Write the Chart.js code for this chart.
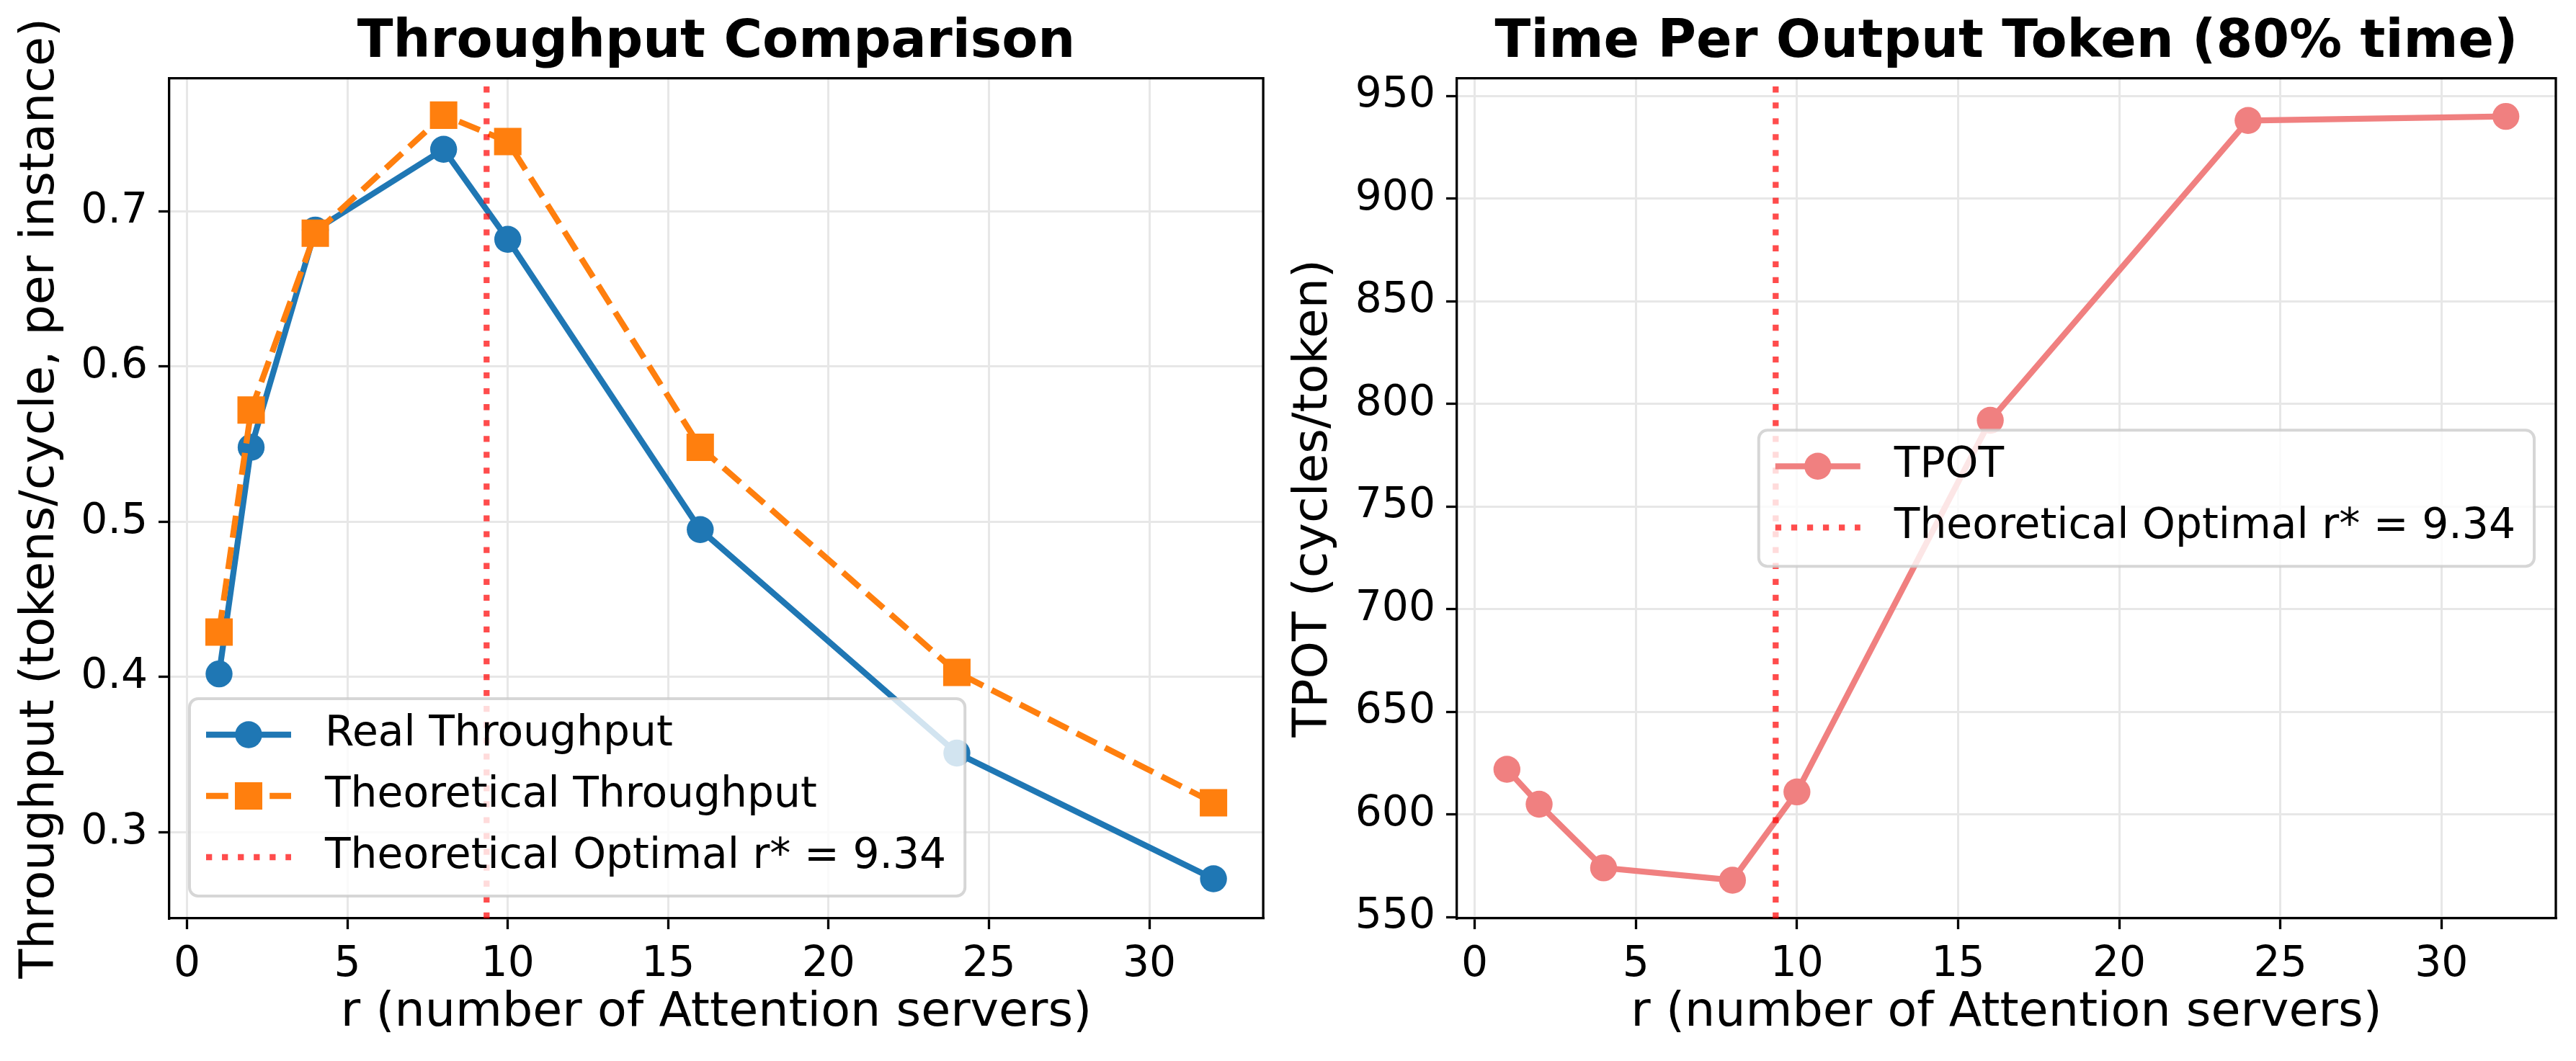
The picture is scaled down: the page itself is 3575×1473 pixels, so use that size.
<!DOCTYPE html>
<html>
<head>
<meta charset="utf-8">
<title>Throughput / TPOT</title>
<style>
  html, body { margin: 0; padding: 0; background: #fff; overflow: hidden; }
  #wrap { position: relative; width: 3575px; height: 1473px; }
  canvas { position: absolute; top: 0; }
</style>
</head>
<body>
<div id="wrap">
  <canvas id="left" width="1780" height="1473" style="left:0"></canvas>
  <canvas id="right" width="1795" height="1473" style="left:1780px"></canvas>
</div>
<script src="https://cdn.jsdelivr.net/npm/chart.js"></script>
<script>
// data
const rValues = [1, 2, 4, 8, 10, 16, 24, 32];
const realThroughput = [0.402, 0.548, 0.688, 0.740, 0.682, 0.495, 0.351, 0.270];
const theoreticalThroughput = [0.429, 0.572, 0.686, 0.762, 0.745, 0.548, 0.403, 0.319];
const tpotValues = [622, 605, 574, 568, 611, 792, 938, 940];
const rStar = 9.34;

// axis limits (matplotlib autoscale with 5% margins)
const xMin = -0.55, xMax = 33.55;
const yMinLeft = 0.2445, yMaxLeft = 0.7858;
const yMinRight = 549.4, yMaxRight = 958.6;

const FONT = 'DejaVu Sans';
const TICK_PX = 58.3, LABEL_PX = 66.7, TITLE_PX = 73;

function pts(xs, ys) {
  return xs.map((x, i) => ({x: x, y: ys[i]}));
}

function roundBox(ctx, x, y, w, h, r) {
  ctx.beginPath();
  ctx.moveTo(x + r, y);
  ctx.arcTo(x + w, y, x + w, y + h, r);
  ctx.arcTo(x + w, y + h, x, y + h, r);
  ctx.arcTo(x, y + h, x, y, r);
  ctx.arcTo(x, y, x + w, y, r);
  ctx.closePath();
}

function drawMarker(ctx, style, r, x, y, color) {
  ctx.fillStyle = color;
  ctx.beginPath();
  if (style === 'rect') {
    const s = Math.SQRT1_2 * r;
    ctx.rect(x - s, y - s, 2 * s, 2 * s);
  } else {
    ctx.arc(x, y, r, 0, Math.PI * 2);
  }
  ctx.fill();
}

// top/right spines + matplotlib style legend inside the axes
const frameAndLegend = {
  id: 'frameAndLegend',
  afterDraw(chart, args, opts) {
    const ctx = chart.ctx, a = chart.chartArea;
    ctx.save();
    ctx.strokeStyle = '#000';
    ctx.lineWidth = 3.3;
    ctx.beginPath();
    ctx.moveTo(a.left, a.top);
    ctx.lineTo(a.right, a.top);
    ctx.lineTo(a.right, a.bottom);
    ctx.stroke();

    const items = chart.data.datasets;
    ctx.font = TICK_PX + 'px "' + FONT + '"';
    const textW = Math.max(...items.map(d => ctx.measureText(d.label).width));
    const w = 188 + textW + 26;
    const h = 104 + (items.length - 1) * 85;
    let x, y;
    if (opts.loc === 'lower left') {
      x = a.left + 28; y = a.bottom - 31 - h;
    } else {
      x = a.right - 30 - w; y = (a.top + a.bottom) / 2 - h / 2;
    }
    roundBox(ctx, x, y, w, h, 12);
    ctx.fillStyle = 'rgba(255,255,255,0.8)';
    ctx.fill();
    ctx.strokeStyle = 'rgba(204,204,204,0.8)';
    ctx.lineWidth = 4;
    ctx.stroke();

    items.forEach((d, i) => {
      const cy = y + 50 + i * 85;
      ctx.strokeStyle = d.borderColor;
      ctx.lineWidth = d.borderWidth;
      ctx.lineCap = 'butt';
      ctx.setLineDash(d.borderDash || []);
      ctx.beginPath();
      ctx.moveTo(x + 23, cy);
      ctx.lineTo(x + 141, cy);
      ctx.stroke();
      ctx.setLineDash([]);
      if (d.pointRadius > 0) drawMarker(ctx, d.pointStyle, d.pointRadius, x + 82, cy, d.pointBackgroundColor);
      ctx.fillStyle = '#000';
      ctx.textAlign = 'left';
      ctx.textBaseline = 'middle';
      ctx.fillText(d.label, x + 188, cy);
    });
    ctx.restore();
  }
};

function xScale() {
  return {
    type: 'linear', min: xMin, max: xMax,
    afterFit(s) { s.height = 198; },
    ticks: { stepSize: 5, includeBounds: false, color: '#000', padding: 15,
             font: { family: FONT, size: TICK_PX } },
    grid: { color: '#e7e7e7', lineWidth: 3, drawTicks: true, tickLength: 15,
            tickWidth: 3.3, tickColor: '#000' },
    border: { color: '#000', width: 3.3 },
    title: { display: true, text: 'r (number of Attention servers)', color: '#000',
             font: { family: FONT, size: LABEL_PX, lineHeight: 1.2 }, padding: { top: 0, bottom: 26 } }
  };
}

function yScale(min, max, step, width, label, titlePad, fmt) {
  return {
    type: 'linear', min: min, max: max,
    afterFit(s) { s.width = width; },
    ticks: { stepSize: step, includeBounds: false, color: '#000', padding: 15,
             font: { family: FONT, size: TICK_PX }, callback: fmt },
    grid: { color: '#e7e7e7', lineWidth: 3, drawTicks: true, tickLength: 15,
            tickWidth: 3.3, tickColor: '#000' },
    border: { color: '#000', width: 3.3 },
    title: { display: true, text: label, color: '#000',
             font: { family: FONT, size: LABEL_PX, lineHeight: 1.2 }, padding: { top: titlePad, bottom: 0 } }
  };
}

function vline(yMin, yMax) {
  return {
    label: 'Theoretical Optimal r* = ' + rStar,
    data: [{x: rStar, y: yMin}, {x: rStar, y: yMax}],
    borderColor: 'rgba(255,0,0,0.7)', borderWidth: 8.3, borderDash: [8.3, 13.75],
    pointRadius: 0, order: 0
  };
}

function titleOpts(text) {
  return { display: true, text: text, color: '#000', fullSize: false,
           font: { family: FONT, size: TITLE_PX, weight: 'bold', lineHeight: 1.2 },
           padding: { top: 16, bottom: 5 } };
}

Chart.defaults.font.family = FONT;

new Chart(document.getElementById('left'), {
  type: 'line',
  data: {
    datasets: [
      { label: 'Real Throughput', data: pts(rValues, realThroughput),
        borderColor: '#1f77b4', borderWidth: 8.3, pointStyle: 'circle', pointRadius: 18.7,
        pointBackgroundColor: '#1f77b4', pointBorderWidth: 0, order: 2 },
      { label: 'Theoretical Throughput', data: pts(rValues, theoreticalThroughput),
        borderColor: '#ff7f0e', borderWidth: 8.3, borderDash: [30.8, 13.3], pointStyle: 'rect', pointRadius: 26.9,
        pointBackgroundColor: '#ff7f0e', pointBorderWidth: 0, order: 1 },
      vline(yMinLeft, yMaxLeft)
    ]
  },
  options: {
    responsive: false, animation: false, devicePixelRatio: 1, events: [],
    layout: { padding: { left: 0, top: 0, right: 21, bottom: 0 } },
    scales: {
      x: xScale(),
      y: yScale(yMinLeft, yMaxLeft, 0.1, 235, 'Throughput (tokens/cycle, per instance)', 17, v => v.toFixed(1))
    },
    plugins: {
      legend: { display: false }, tooltip: { enabled: false },
      title: titleOpts('Throughput Comparison'),
      frameAndLegend: { loc: 'lower left' }
    }
  },
  plugins: [frameAndLegend]
});

new Chart(document.getElementById('right'), {
  type: 'line',
  data: {
    datasets: [
      { label: 'TPOT', data: pts(rValues, tpotValues),
        borderColor: '#f08080', borderWidth: 8.3, pointStyle: 'circle', pointRadius: 18.7,
        pointBackgroundColor: '#f08080', pointBorderWidth: 0, order: 1 },
      vline(yMinRight, yMaxRight)
    ]
  },
  options: {
    responsive: false, animation: false, devicePixelRatio: 1, events: [],
    layout: { padding: { left: 0, top: 0, right: 28, bottom: 0 } },
    scales: {
      x: xScale(),
      y: yScale(yMinRight, yMaxRight, 50, 242, 'TPOT (cycles/token)', 4, v => String(v))
    },
    plugins: {
      legend: { display: false }, tooltip: { enabled: false },
      title: titleOpts('Time Per Output Token (80% time)'),
      frameAndLegend: { loc: 'center right' }
    }
  },
  plugins: [frameAndLegend]
});
</script>
</body>
</html>
